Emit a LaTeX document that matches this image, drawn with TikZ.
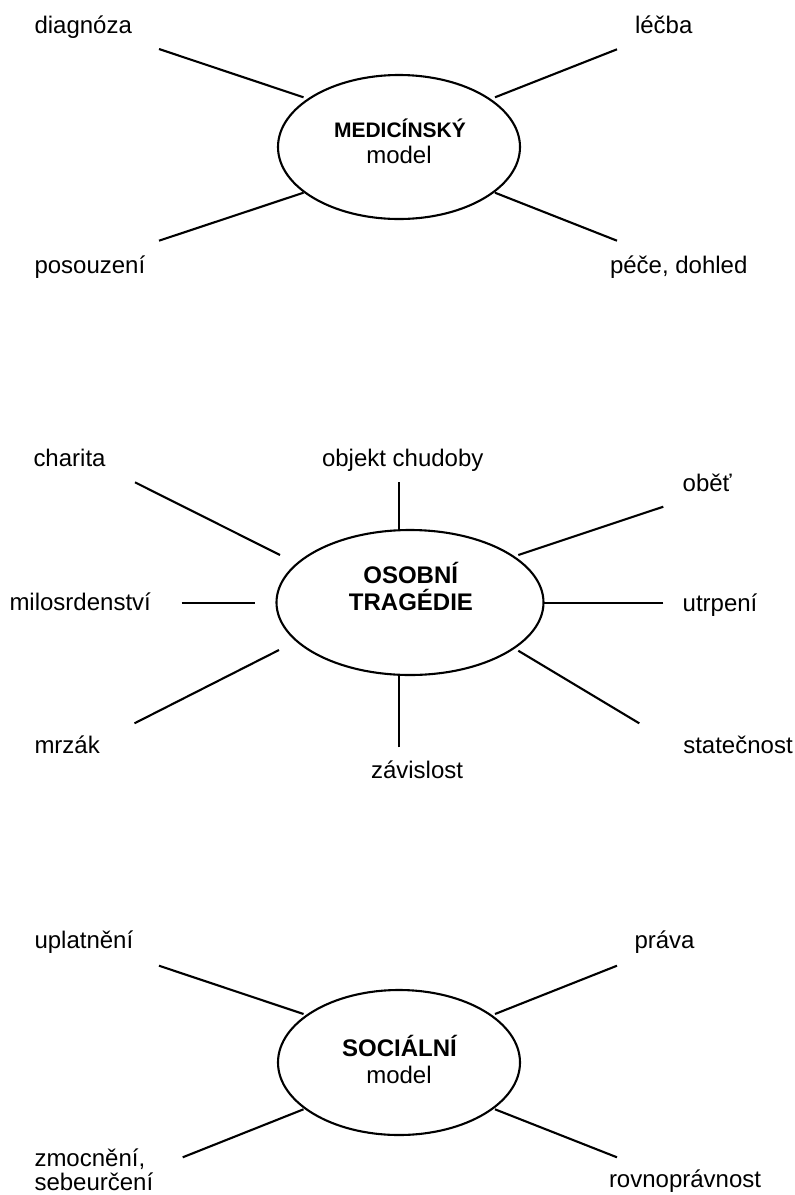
\documentclass[tikz,border=0pt]{standalone}
\usepackage{fontspec}
\setmainfont{Liberation Sans}
\usetikzlibrary{shapes.geometric}
\tikzset{
  lbl/.style={anchor=base west, inner sep=0pt, outer sep=0pt, font=\fontsize{24}{24}\selectfont},
  ctr/.style={anchor=base, inner sep=0pt, outer sep=0pt, font=\fontsize{24}{24}\selectfont},
  ttl/.style={anchor=base, inner sep=0pt, outer sep=0pt, font=\fontsize{24}{24}\selectfont\bfseries},
  oval/.style={draw, ellipse, line width=2.1pt, inner sep=0pt, outer sep=0pt},
  ray/.style={line width=2.1pt, line cap=butt}
}
\begin{document}
\begin{tikzpicture}[x=1pt,y=-1pt]
\useasboundingbox (0,0) rectangle (795,1195);
\fill[white] (0,0) rectangle (795,1195);

% ---------------- MEDICAL MODEL ----------------
\node[oval, minimum width=242pt, minimum height=144pt] (med) at (399,147) {};
\node[ttl, font=\fontsize{21}{21}\selectfont\bfseries] (medt) at (400,137) {MEDICÍNSKÝ};
\node[ctr] (medm) at (399,163) {model};

\node[lbl] (diag) at (34.5,33) {diagnóza};
\node[lbl] (lecba) at (635,33) {léčba};
\node[lbl] (poso) at (34.5,273.3) {posouzení};
\node[lbl] (pece) at (610,273.3) {péče, dohled};

\coordinate (m1a) at (159,49);    \coordinate (m1b) at (303.5,97.3);
\coordinate (m2a) at (617,49.3);  \coordinate (m2b) at (495,97.3);
\coordinate (m3a) at (159,240.7); \coordinate (m3b) at (303.5,192.7);
\coordinate (m4a) at (617,240.7); \coordinate (m4b) at (495,192.7);
\draw[ray] (m1a) -- (m1b);
\draw[ray] (m2a) -- (m2b);
\draw[ray] (m3a) -- (m3b);
\draw[ray] (m4a) -- (m4b);

% ---------------- PERSONAL TRAGEDY ----------------
\node[oval, minimum width=267pt, minimum height=145pt] (tra) at (410,602.5) {};
\node[ttl] (trat1) at (410.7,583.3) {OSOBNÍ};
\node[ttl] (trat2) at (411,610) {TRAGÉDIE};

\node[lbl] (char) at (33.5,466) {charita};
\node[lbl] (obj) at (322,466.5) {objekt chudoby};
\node[lbl] (obet) at (682.7,491) {oběť};
\node[lbl] (milo) at (9.5,610.5) {milosrdenství};
\node[lbl] (utrp) at (682.7,611) {utrpení};
\node[lbl] (mrz) at (34.5,753.3) {mrzák};
\node[lbl] (stat) at (683.3,753.3) {statečnost};
\node[lbl] (zav) at (371,778.3) {závislost};

\coordinate (t1a) at (135,482.3);   \coordinate (t1b) at (280,555);
\coordinate (t2a) at (399.3,482.3); \coordinate (t2b) at (399.3,530.5);
\coordinate (t3a) at (663.3,506.7); \coordinate (t3b) at (518.3,555);
\coordinate (t4a) at (181.7,603); \coordinate (t4b) at (255,603);
\coordinate (t5a) at (663.3,603); \coordinate (t5b) at (543.3,603);
\coordinate (t6a) at (134.5,723.3); \coordinate (t6b) at (279,650);
\coordinate (t7a) at (639.3,723.3); \coordinate (t7b) at (518.3,650.7);
\coordinate (t8a) at (399.3,747.3); \coordinate (t8b) at (399.3,674.5);
\draw[ray] (t1a) -- (t1b);
\draw[ray] (t2a) -- (t2b);
\draw[ray] (t3a) -- (t3b);
\draw[ray] (t4a) -- (t4b);
\draw[ray] (t5a) -- (t5b);
\draw[ray] (t6a) -- (t6b);
\draw[ray] (t7a) -- (t7b);
\draw[ray] (t8a) -- (t8b);

% ---------------- SOCIAL MODEL ----------------
\node[oval, minimum width=242pt, minimum height=145pt] (soc) at (399,1062.5) {};
\node[ttl] (soct) at (399.5,1056.7) {SOCIÁLNÍ};
\node[ctr] (socm) at (399,1083) {model};

\node[lbl] (upl) at (34.5,948) {uplatnění};
\node[lbl] (prav) at (634.5,948) {práva};
\node[lbl, align=left, anchor=north west, font=\fontsize{24}{24}\selectfont] (zmoc) at (34.5,1148.5) {zmocnění,\\sebeurčení};
\node[lbl] (rovn) at (609,1187.7) {rovnoprávnost};

\coordinate (s1a) at (159,965.7);    \coordinate (s1b) at (303.5,1014);
\coordinate (s2a) at (617,965.7);    \coordinate (s2b) at (495,1014);
\coordinate (s3a) at (182.7,1157.3); \coordinate (s3b) at (303.5,1109.3);
\coordinate (s4a) at (617,1157.3);   \coordinate (s4b) at (495,1109.3);
\draw[ray] (s1a) -- (s1b);
\draw[ray] (s2a) -- (s2b);
\draw[ray] (s3a) -- (s3b);
\draw[ray] (s4a) -- (s4b);
\end{tikzpicture}
\end{document}
